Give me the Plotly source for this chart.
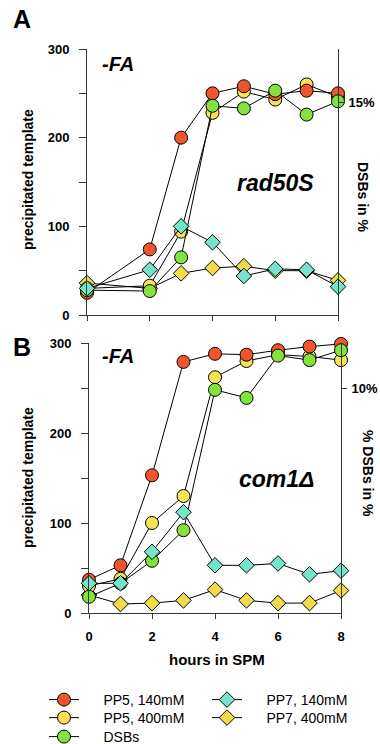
import plotly.graph_objects as go

# ---- data ----
hours_A = [0, 2, 3, 4, 5, 6, 7, 8]
pp5_140_A = [25, 74, 200, 250, 258, 249, 253, 250]
pp5_400_A = [30, 33, 94, 228, 252, 243, 260, 246]
dsb_A = [28, 27, 65, 236, 233, 253, 226, 241]
pp7_140_A = [30, 51, 100, 82, 44, 52, 51, 32]
pp7_400_A = [36, 30, 47, 53, 55, 50, 50, 39]

hours_B = [0, 1, 2, 3, 4, 5, 6, 7, 8]
pp5_140_B = [37, 53, 153, 279, 288, 287, 292, 296, 299]
pp5_400_B = [30, 38, 100, 130, 262, 280, 287, 285, 281]
dsb_B = [18, 33, 58, 92, 248, 239, 286, 281, 292]
pp7_140_B = [33, 33, 68, 112, 53, 53, 55, 43, 47]
pp7_400_B = [20, 10, 11, 14, 26, 14, 11, 11, 25]

y_ticks = [0, 50, 100, 150, 200, 250, 300]
y_ticktext = ["0", "", "100", "", "200", "", "300"]
x_ticks = [0, 2, 4, 6, 8]
right_tick_A = [240]
right_text_A = ["15%"]
right_tick_B = [250]
right_text_B = ["10%"]

W, H = 380, 744
FONT = "Liberation Sans, Arial, Helvetica, sans-serif"
NB = "\u00a0"

series = [
    # name, A values, B values, symbol, color, legend id
    ("PP7, 400mM", pp7_400_A, pp7_400_B, "diamond", "#F3DA4A", "legend4"),
    ("PP5, 400mM", pp5_400_A, pp5_400_B, "circle", "#F8E452", "legend3"),
    ("PP5, 140mM", pp5_140_A, pp5_140_B, "circle", "#F2552C", "legend"),
    ("DSBs", dsb_A, dsb_B, "circle", "#84E23C", "legend5"),
    ("PP7, 140mM", pp7_140_A, pp7_140_B, "diamond", "#74E4CC", "legend2"),
]

fig = go.Figure()
for name, va, vb, sym, col, leg in series:
    size = 12 if sym == "diamond" else 13
    pad = NB * (5 if sym == "diamond" else 5)
    common = dict(
        mode="lines+markers",
        line=dict(color="black", width=1),
        marker=dict(symbol=sym, size=size, color=col, line=dict(color="black", width=1)),
        cliponaxis=False,
        legendgroup=name,
        hoverinfo="x+y+name",
    )
    fig.add_trace(go.Scatter(x=hours_A, y=va, xaxis="x", yaxis="y", showlegend=False,
                             name=name, **common))
    fig.add_trace(go.Scatter(x=hours_B, y=vb, xaxis="x2", yaxis="y2", showlegend=True,
                             legend=leg, name=pad + name, **common))

# invisible carriers so the right-hand (DSB %) axes are drawn
fig.add_trace(go.Scatter(x=hours_A, y=dsb_A, xaxis="x", yaxis="y3", mode="lines",
                         line=dict(width=0), opacity=0, hoverinfo="skip", showlegend=False))
fig.add_trace(go.Scatter(x=hours_B, y=dsb_B, xaxis="x2", yaxis="y4", mode="lines",
                         line=dict(width=0), opacity=0, hoverinfo="skip", showlegend=False))


def px_x(p):
    return p / W


def px_y(p):
    return 1 - p / H


axcol = "#2b3b38"
tickfont = dict(family=FONT, size=13, color="black", weight="bold")

xA = [px_x(87), px_x(338)]
yA = [px_y(315), px_y(49)]
xB = [px_x(89), px_x(341)]
yB = [px_y(613), px_y(343)]

common_x = dict(range=[0, 8], showline=True, linecolor=axcol, linewidth=1, ticks="outside",
                ticklen=5, tickcolor=axcol, tickvals=x_ticks, showgrid=False, zeroline=False,
                tickfont=tickfont, fixedrange=True, automargin=False)
common_y = dict(range=[0, 300], showline=True, linecolor=axcol, linewidth=1, ticks="outside",
                ticklen=7, tickcolor=axcol, tickvals=y_ticks, ticktext=y_ticktext,
                showgrid=False, zeroline=False, tickfont=tickfont, ticklabelstandoff=7,
                automargin=False)
common_r = dict(side="right", range=[0, 300], showline=True, linecolor=axcol, linewidth=1,
                ticks="outside", ticklen=5, tickcolor=axcol, showgrid=False, zeroline=False,
                tickfont=tickfont, ticklabelstandoff=2, automargin=False)


def leg(xp, yp):
    return dict(x=px_x(xp), y=px_y(yp), xanchor="left", yanchor="middle",
                font=dict(family=FONT, size=14, color="black"), bgcolor="rgba(0,0,0,0)",
                borderwidth=0, itemwidth=30, orientation="v")


fig.update_layout(
    template="none",
    width=W, height=H,
    margin=dict(l=0, r=0, t=0, b=0, autoexpand=False),
    paper_bgcolor="white", plot_bgcolor="white",
    font=dict(family=FONT, color="black"),
    xaxis=dict(domain=xA, anchor="y", showticklabels=False, **common_x),
    yaxis=dict(domain=yA, anchor="x", **common_y),
    yaxis3=dict(overlaying="y", anchor="x", tickvals=right_tick_A, ticktext=right_text_A,
                **common_r),
    xaxis2=dict(domain=xB, anchor="y2", showticklabels=True, ticklabelstandoff=6, **common_x),
    yaxis2=dict(domain=yB, anchor="x2", **common_y),
    yaxis4=dict(overlaying="y2", anchor="x2", tickvals=right_tick_B, ticktext=right_text_B,
                **common_r),
    legend=leg(44, 700),
    legend3=leg(44, 718),
    legend5=leg(44, 737),
    legend2=leg(207, 700),
    legend4=leg(207, 718),
    showlegend=True,
)


def ann(text, x, y, size, bold=True, italic=False, angle=0):
    fig.add_annotation(text=text, x=px_x(x), y=px_y(y), xref="paper", yref="paper",
                       showarrow=False, textangle=angle, xanchor="center", yanchor="middle",
                       font=dict(family=FONT, size=size, color="black",
                                 weight="bold" if bold else "normal",
                                 style="italic" if italic else "normal"))


ann("A", 22, 19, 25)
ann("B", 22, 347, 25)
ann("-FA", 118, 64, 20, italic=True)
ann("-FA", 118, 356, 20, italic=True)
ann("rad50S", 275, 183, 23, italic=True)
ann("com1Δ", 277, 479, 23, italic=True)
ann("precipitated template", 28, 180, 14, angle=-90)
ann("precipitated template", 28, 478, 14, angle=-90)
ann("DSBs in %", 363, 197, 14, angle=90)
ann("% DSBs in %", 368, 473, 14, angle=90)
ann("hours in SPM", 217, 659, 15)

fig.write_html("out.html", config={"displayModeBar": False},
               post_script="document.body.style.margin='0';document.body.style.overflow='hidden';")
